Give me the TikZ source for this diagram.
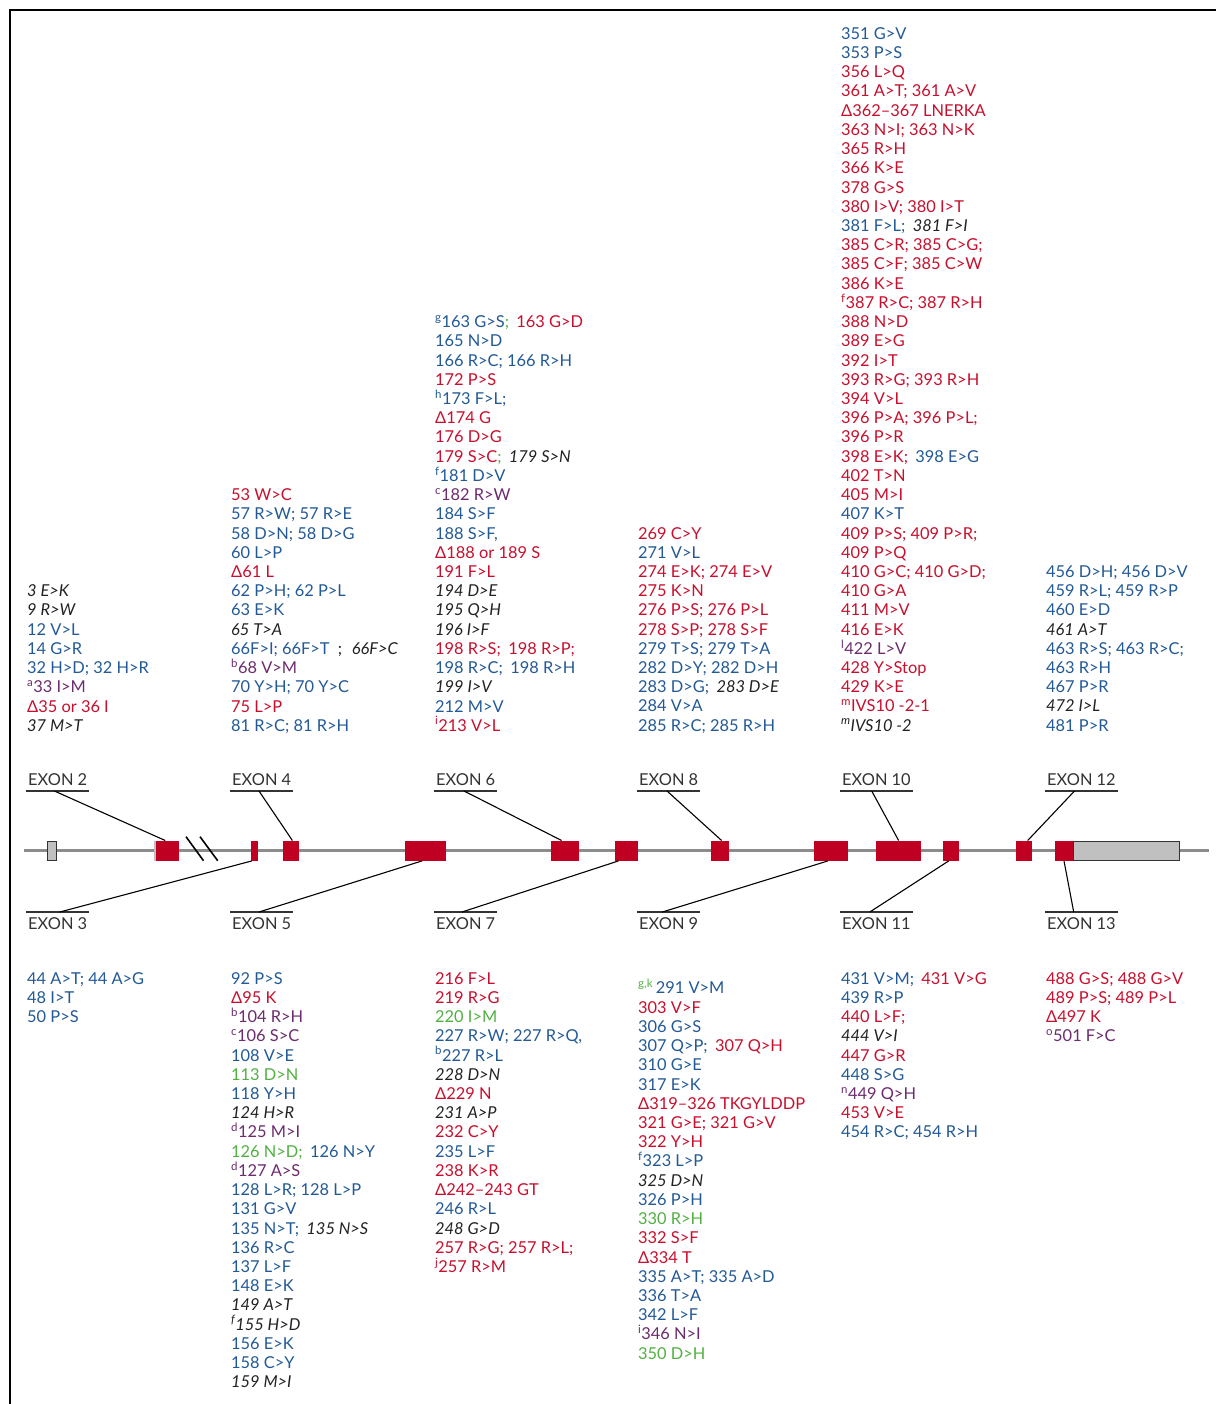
\documentclass[tikz,border=0pt]{standalone}
\usepackage{fontspec}
\setmainfont{Lato}
\usetikzlibrary{calc}

\definecolor{mred}{RGB}{200,16,46}
\definecolor{mblue}{RGB}{35,90,150}
\definecolor{mpurple}{RGB}{108,44,110}
\definecolor{mgreen}{RGB}{82,176,67}
\definecolor{mblack}{RGB}{34,34,34}
\definecolor{exred}{RGB}{192,0,34}
\definecolor{labgray}{RGB}{51,51,51}
\definecolor{utrgray}{RGB}{192,192,192}
\definecolor{bbgray}{RGB}{140,140,140}

% colour classes for the mutation entries
\newcommand\cR[1]{\textcolor{mred}{#1}}
\newcommand\cB[1]{\textcolor{mblue}{#1}}
\newcommand\cP[1]{\textcolor{mpurple}{#1}}
\newcommand\cG[1]{\textcolor{mgreen}{#1}}
\newcommand\cI[1]{{\color{mblack}\itshape #1}}
\newcommand\cS[1]{\textsuperscript{#1}}
\newcommand\gap{\hspace{0.45em}}

\begin{document}
\begin{tikzpicture}[x=1pt,y=-1pt,
  list/.style={anchor=north west, inner sep=0pt, align=left,
    font=\fontsize{16.4}{19.22}\selectfont},
  exlabel/.style={inner xsep=2pt, inner ysep=0pt, text=labgray,
    font=\fontsize{16.4}{19.22}\selectfont},
  toplabel/.style={exlabel, anchor=south west, text height=12pt, text depth=5pt},
  botlabel/.style={exlabel, anchor=north west, text height=17pt, text depth=0pt},
  exon/.style={fill=exred, inner sep=0pt, minimum height=20pt},
  utr/.style={fill=utrgray, draw=labgray, line width=0.9pt, inner sep=0pt, minimum height=19pt},
  leader/.style={black, line width=1.1pt},
  rule/.style={labgray, line width=1.1pt},
  backbone/.style={bbgray, line width=2.8pt},
  breakmark/.style={black, line width=1.6pt}]

\useasboundingbox (0,0) rectangle (1216,1404);
\fill[white] (0,0) rectangle (1216,1404);

% frame
\coordinate (fTL) at (10,10);
\coordinate (fTR) at (1216,10);
\coordinate (fBL) at (10,1404);
\draw[black, line width=2pt] (fBL) -- (fTL) -- (fTR);

% gene backbone
\coordinate (bbL) at (24,850.7);
\coordinate (bbR) at (1209,850.7);
\draw[backbone] (bbL) -- (bbR);

% untranslated parts
\node[utr, minimum width=9.5pt] (utr5) at (51.95,850.7) {};
\node[fill=utrgray, inner sep=0pt, minimum width=2.7pt, minimum height=20pt] (e2u) at (155.05,850.7) {};
\node[utr, minimum width=106.7pt] (utr3) at (1126.35,850.7) {};

% exons
\node[exon, minimum width=22.9pt] (e2)  at (167.85,850.7) {};
\node[exon, minimum width=6.9pt]  (e3)  at (254.85,850.7) {};
\node[exon, minimum width=16pt]   (e4)  at (291,850.7) {};
\node[exon, minimum width=41pt]   (e5)  at (425.1,850.7) {};
\node[exon, minimum width=28pt]   (e6)  at (564.6,850.7) {};
\node[exon, minimum width=23.4pt] (e7)  at (626.5,850.7) {};
\node[exon, minimum width=18.4pt] (e8)  at (720.2,850.7) {};
\node[exon, minimum width=33.2pt] (e9)  at (831,850.7) {};
\node[exon, minimum width=44.5pt] (e10) at (898.65,850.7) {};
\node[exon, minimum width=16pt]   (e11) at (950.7,850.7) {};
\node[exon, minimum width=16pt]   (e12) at (1024,850.7) {};
\node[exon, minimum width=18pt]   (e13) at (1064,850.7) {};

% intron break
\coordinate (bk1a) at (186,836.7);
\coordinate (bk1b) at (203.5,860.7);
\coordinate (bk2a) at (200,836.7);
\coordinate (bk2b) at (217.7,860.7);
\draw[breakmark] (bk1a) -- (bk1b);
\draw[breakmark] (bk2a) -- (bk2b);

% exon labels above the gene
\node[toplabel] (l2)  at (26,791)   {EXON 2};
\node[toplabel] (l4)  at (230,791)  {EXON 4};
\node[toplabel] (l6)  at (434,791)  {EXON 6};
\node[toplabel] (l8)  at (637,791)  {EXON 8};
\node[toplabel] (l10) at (840,791)  {EXON 10};
\node[toplabel] (l12) at (1045,791) {EXON 12};
\foreach \n in {l2,l4,l6,l8,l10,l12}
  \draw[rule] (\n.south west) -- (\n.south east);

% exon labels below the gene
\node[botlabel] (l3)  at (26,912)   {EXON 3};
\node[botlabel] (l5)  at (230,912)  {EXON 5};
\node[botlabel] (l7)  at (434,912)  {EXON 7};
\node[botlabel] (l9)  at (637,912)  {EXON 9};
\node[botlabel] (l11) at (840,912)  {EXON 11};
\node[botlabel] (l13) at (1045,912) {EXON 13};
\foreach \n in {l3,l5,l7,l9,l11,l13}
  \draw[rule] (\n.north west) -- (\n.north east);

% leaders from labels to exons
\draw[leader] ([xshift=28.4pt]l2.south west)  -- ([xshift=-2.6pt]e2.north);
\draw[leader] ([xshift=29pt]l4.south west)    -- ([xshift=1.4pt]e4.north);
\draw[leader] ([xshift=30pt]l6.south west)    -- ([xshift=-3pt]e6.north);
\draw[leader] ([xshift=30pt]l8.south west)    -- ([xshift=1.4pt]e8.north);
\draw[leader] ([xshift=31.7pt]l10.south west) -- (e10.north);
\draw[leader] ([xshift=29.5pt]l12.south west) -- ([xshift=3.7pt]e12.north);
\draw[leader] ([xshift=33.8pt]l3.north west)  -- ([xshift=-3pt]e3.south);
\draw[leader] ([xshift=29pt]l5.north west)    -- ([xshift=-3pt]e5.south);
\draw[leader] ([xshift=28pt]l7.north west)    -- ([xshift=-8pt]e7.south);
\draw[leader] ([xshift=25.4pt]l9.north west)  -- ([xshift=-3pt]e9.south);
\draw[leader] ([xshift=29.8pt]l11.north west) -- ([xshift=-2pt]e11.south);
\draw[leader] ([xshift=28.7pt]l13.north west) -- (e13.south);

% mutation lists above the gene
\node[list] (t1) at (27,583.05) {\strut\cI{3 E>K}\\
\cI{9 R>W}\\
\cB{12 V>L}\\
\cB{14 G>R}\\
\cB{32 H>D; 32 H>R}\\
\cP{\cS{a}33 I>M}\\
\cR{Δ35 or 36 I}\\
\cI{37 M>T}};

\node[list] (t2) at (231,486.95) {\strut\cR{53 W>C}\\
\cB{57 R>W; 57 R>E}\\
\cB{58 D>N; 58 D>G}\\
\cB{60 L>P}\\
\cR{Δ61 L}\\
\cB{62 P>H; 62 P>L}\\
\cB{63 E>K}\\
\cI{65 T>A}\\
\cB{66F>I; 66F>T}\hspace{0.5em}\textcolor{mblack}{;}\hspace{0.6em}\cI{66F>C}\\
\cP{\cS{b}68 V>M}\\
\cB{70 Y>H; 70 Y>C}\\
\cR{75 L>P}\\
\cB{81 R>C; 81 R>H}};

\node[list] (t3) at (435,313.95) {\strut\cB{\cS{g}163 G>S}\cG{;}\gap\cR{163 G>D}\\
\cB{165 N>D}\\
\cB{166 R>C; 166 R>H}\\
\cR{172 P>S}\\
\cB{\cS{h}173 F>L;}\\
\cR{Δ174 G}\\
\cR{176 D>G}\\
\cR{179 S>C}\cG{;}\gap\cI{179 S>N}\\
\cB{\cS{f}181 D>V}\\
\cP{\cS{c}182 R>W}\\
\cB{184 S>F}\\
\cB{188 S>F,}\\
\cR{Δ188 or 189 S}\\
\cR{191 F>L}\\
\cI{194 D>E}\\
\cI{195 Q>H}\\
\cI{196 I>F}\\
\cR{198 R>S;\gap 198 R>P;}\\
\cB{198 R>C;\gap 198 R>H}\\
\cI{199 I>V}\\
\cB{212 M>V}\\
\cR{\cS{i}213 V>L}};

\node[list] (t4) at (638,525.35) {\strut\cR{269 C>Y}\\
\cB{271 V>L}\\
\cR{274 E>K; 274 E>V}\\
\cR{275 K>N}\\
\cR{276 P>S; 276 P>L}\\
\cR{278 S>P; 278 S>F}\\
\cB{279 T>S; 279 T>A}\\
\cB{282 D>Y; 282 D>H}\\
\cB{283 D>G;}\gap\cI{283 D>E}\\
\cB{284 V>A}\\
\cB{285 R>C; 285 R>H}};

\node[list] (t5) at (841,25.63) {\strut\cB{351 G>V}\\
\cB{353 P>S}\\
\cR{356 L>Q}\\
\cR{361 A>T; 361 A>V}\\
\cR{Δ362–367 LNERKA}\\
\cR{363 N>I; 363 N>K}\\
\cR{365 R>H}\\
\cR{366 K>E}\\
\cR{378 G>S}\\
\cR{380 I>V; 380 I>T}\\
\cB{381 F>L;}\gap\cI{381 F>I}\\
\cR{385 C>R; 385 C>G;}\\
\cR{385 C>F; 385 C>W}\\
\cR{386 K>E}\\
\cR{\cS{f}387 R>C; 387 R>H}\\
\cR{388 N>D}\\
\cR{389 E>G}\\
\cR{392 I>T}\\
\cR{393 R>G; 393 R>H}\\
\cR{394 V>L}\\
\cR{396 P>A; 396 P>L;}\\
\cR{396 P>R}\\
\cR{398 E>K;}\gap\cB{398 E>G}\\
\cR{402 T>N}\\
\cR{405 M>I}\\
\cB{407 K>T}\\
\cR{409 P>S; 409 P>R;}\\
\cR{409 P>Q}\\
\cR{410 G>C; 410 G>D;}\\
\cR{410 G>A}\\
\cR{411 M>V}\\
\cR{416 E>K}\\
\cP{\cS{l}422 L>V}\\
\cR{428 Y>Stop}\\
\cR{429 K>E}\\
\cR{\cS{m}IVS10 -2-1}\\
\cI{\cS{m}IVS10 -2}};

\node[list] (t6) at (1046,563.75) {\strut\cB{456 D>H; 456 D>V}\\
\cB{459 R>L; 459 R>P}\\
\cB{460 E>D}\\
\cI{461 A>T}\\
\cB{463 R>S; 463 R>C;}\\
\cB{463 R>H}\\
\cB{467 P>R}\\
\cI{472 I>L}\\
\cB{481 P>R}};

% mutation lists below the gene
\node[list] (b1) at (27,970.55) {\strut\cB{44 A>T; 44 A>G}\\
\cB{48 I>T}\\
\cB{50 P>S}};

\node[list] (b2) at (231,970.55) {\strut\cB{92 P>S}\\
\cR{Δ95 K}\\
\cP{\cS{b}104 R>H}\\
\cP{\cS{c}106 S>C}\\
\cB{108 V>E}\\
\cG{113 D>N}\\
\cB{118 Y>H}\\
\cI{124 H>R}\\
\cP{\cS{d}125 M>I}\\
\cG{126 N>D;}\gap\cB{126 N>Y}\\
\cP{\cS{d}127 A>S}\\
\cB{128 L>R; 128 L>P}\\
\cB{131 G>V}\\
\cB{135 N>T;}\gap\cI{135 N>S}\\
\cB{136 R>C}\\
\cB{137 L>F}\\
\cB{148 E>K}\\
\cI{149 A>T}\\
\cI{\cS{f}155 H>D}\\
\cB{156 E>K}\\
\cB{158 C>Y}\\
\cI{159 M>I}};

\node[list] (b3) at (435,970.55) {\strut\cR{216 F>L}\\
\cR{219 R>G}\\
\cG{220 I>M}\\
\cB{227 R>W; 227 R>Q,}\\
\cB{\cS{b}227 R>L}\\
\cI{228 D>N}\\
\cR{Δ229 N}\\
\cI{231 A>P}\\
\cR{232 C>Y}\\
\cB{235 L>F}\\
\cR{238 K>R}\\
\cR{Δ242–243 GT}\\
\cB{246 R>L}\\
\cI{248 G>D}\\
\cR{257 R>G; 257 R>L;}\\
\cR{\cS{j}257 R>M}};

\node[list] (b4) at (638,979.05) {\strut\cG{\cS{g,k}}\,\cB{291 V>M}\\
\cR{303 V>F}\\
\cB{306 G>S}\\
\cB{307 Q>P;}\gap\cR{307 Q>H}\\
\cB{310 G>E}\\
\cB{317 E>K}\\
\cR{Δ319–326 TKGYLDDP}\\
\cR{321 G>E; 321 G>V}\\
\cR{322 Y>H}\\
\cB{\cS{f}323 L>P}\\
\cI{325 D>N}\\
\cB{326 P>H}\\
\cG{330 R>H}\\
\cR{332 S>F}\\
\cR{Δ334 T}\\
\cB{335 A>T; 335 A>D}\\
\cB{336 T>A}\\
\cB{342 L>F}\\
\cP{\cS{i}346 N>I}\\
\cG{350 D>H}};

\node[list] (b5) at (841,970.55) {\strut\cB{431 V>M;}\gap\cR{431 V>G}\\
\cB{439 R>P}\\
\cR{440 L>F;}\\
\cI{444 V>I}\\
\cR{447 G>R}\\
\cB{448 S>G}\\
\cP{\cS{n}449 Q>H}\\
\cR{453 V>E}\\
\cB{454 R>C; 454 R>H}};

\node[list] (b6) at (1046,970.55) {\strut\cR{488 G>S; 488 G>V}\\
\cR{489 P>S; 489 P>L}\\
\cR{Δ497 K}\\
\cP{\cS{o}501 F>C}};

\end{tikzpicture}
\end{document}
